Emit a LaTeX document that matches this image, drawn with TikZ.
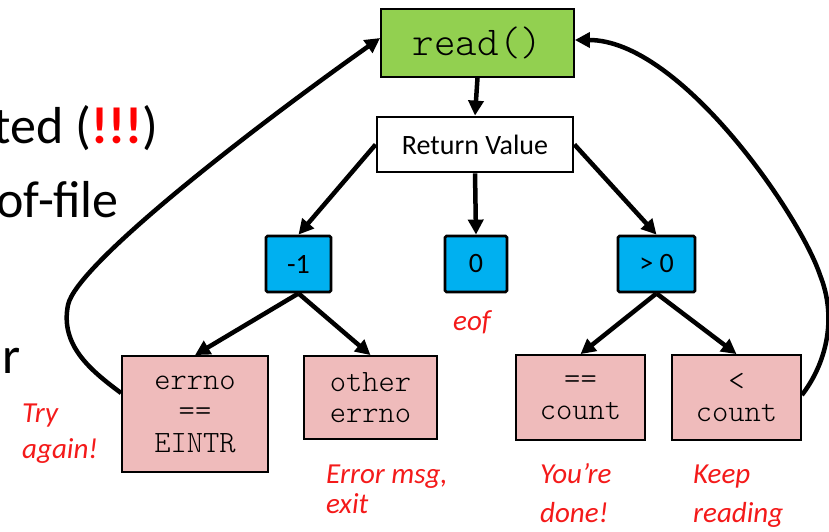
\documentclass[tikz,border=0pt]{standalone}
\usepackage{fontspec}
\setmainfont{Carlito}
\newfontfamily\monolight{lmmonolt10-regular.otf}
\usetikzlibrary{arrows.meta}
\definecolor{readgreen}{HTML}{92D050}
\definecolor{valblue}{HTML}{00B0F0}
\definecolor{pinkbox}{HTML}{EFBBBB}
\definecolor{handred}{HTML}{F41A1A}
\begin{document}
\begin{tikzpicture}[x=1pt,y=-1pt,
  readbox/.style={draw=black, line width=1.8pt, fill=readgreen, inner sep=0pt,
    font=\fontsize{41}{41}\selectfont\monolight},
  rvbox/.style={draw=black, line width=2.8pt, fill=white, inner sep=0pt,
    font=\fontsize{28}{28}\selectfont},
  valbox/.style={draw=black, line width=2.8pt, fill=valblue, inner sep=0pt,
    rounded corners=1.5pt, minimum height=56pt, font=\fontsize{28}{28}\selectfont},
  errbox/.style={draw=black, line width=1.8pt, fill=pinkbox, inner sep=0pt,
    align=center, font=\fontsize{31}{31.5}\selectfont\monolight},
  arr/.style={line width=4.5pt, -{Triangle[length=15pt,width=15pt]}},
  handtxt/.style={anchor=base west, inner sep=0pt, text=handred,
    font=\fontsize{29}{29}\selectfont\itshape},
  slidetxt/.style={anchor=base east, inner sep=0pt, text=black,
    font=\fontsize{52}{52}\selectfont}]
\useasboundingbox (0,0) rectangle (829,531);
\clip (0,0) rectangle (829,531);

% cropped slide text on the left
\node[slidetxt] (s1) at (158,143) {ted (\textcolor{red}{\textbf{!!!}})};
\node[slidetxt] (s2) at (119,217) {of-file};
\node[slidetxt] (s3) at (21,373) {r};

% boxes
\node[readbox, minimum width=193pt, minimum height=68pt] (read) at (477.5,43) {read()};
\node[rvbox, minimum width=196pt, minimum height=55pt] (rv) at (475,144.5) {Return Value};
\node[valbox, minimum width=65pt] (m1) at (298.5,264) {-1};
\node[valbox, minimum width=62pt] (z) at (476,264) {0};
\node[valbox, minimum width=77pt] (g) at (656.5,264) {> 0};
\node[errbox, minimum width=146pt, minimum height=116pt] (e1) at (195,414) {errno\\==\\EINTR};
\node[errbox, minimum width=133pt, minimum height=83pt] (e2) at (370.5,397.5) {other\\errno};
\node[errbox, minimum width=129pt, minimum height=85pt] (c1) at (580.5,397.5) {==\\count};
\node[errbox, minimum width=129pt, minimum height=85pt] (c2) at (736.5,397.5) {<\\count};

% connectors
\draw[arr] (read.south) -- (rv.north);
\draw[arr] (rv.west) -- (m1.north);
\draw[arr] (rv.south) -- (z.north);
\draw[arr] (rv.east) -- (g.north);
\draw[arr] (m1.south) -- (e1.north);
\draw[arr] (m1.south) -- (e2.north);
\draw[arr] (g.south) -- (c1.north);
\draw[arr] (g.south) -- (c2.north);

\draw[arr] (e1.west |- 0,393) .. controls (90,370) and (60,345) .. (68,305)
  .. controls (76,265) and (250,130) .. (read.west |- 0,38);
\draw[arr] (c2.east |- 0,395) .. controls (825,365) and (838,320) .. (820,275)
  .. controls (800,215) and (680,40) .. (read.east |- 0,40);

% handwritten notes
\node[handtxt] (try) at (22,422) {Try};
\node[handtxt] (again) at (22,458) {again!};
\node[handtxt] (eof) at (453,330) {eof};
\node[handtxt] (err) at (326,483) {Error msg,};
\node[handtxt] (exit) at (326,513) {exit};
\node[handtxt] (you) at (540,483) {You’re};
\node[handtxt] (done) at (540,522) {done!};
\node[handtxt] (keep) at (693,483) {Keep};
\node[handtxt] (reading) at (693,522) {reading};
\end{tikzpicture}
\end{document}
